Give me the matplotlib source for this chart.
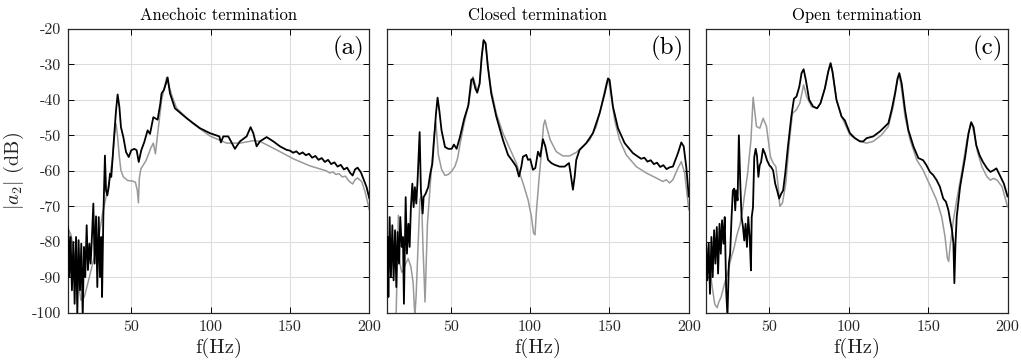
import matplotlib
matplotlib.use("Agg")
import matplotlib.pyplot as plt

plt.rcParams["font.family"] = "serif"
plt.rcParams["font.serif"] = ["cmr10", "DejaVu Serif"]
plt.rcParams["mathtext.fontset"] = "cm"
plt.rcParams["axes.unicode_minus"] = False
plt.rcParams["axes.formatter.use_mathtext"] = True

# ── DATA ──────────────────────────────────────────────────────────
titles = ["Anechoic termination", "Closed termination", "Open termination"]
panel_tags = ["(a)", "(b)", "(c)"]
x_ticks = [50, 100, 150, 200]
y_ticks = [-20, -30, -40, -50, -60, -70, -80, -90, -100]

# (a) anechoic: measured (black) and model (gray)
f_a_meas = [10, 10.5, 11, 11.8, 12.6, 13.5, 14.3, 15.2, 16, 16.8, 17.7, 18.5, 19.4,
            20.2, 21, 21.9, 22.7, 23.6, 24.4, 25.3, 26.1, 26.9, 27.8, 28.6, 29.5,
            30.3, 31.1, 31.6, 32.4, 33.4, 34.1, 34.9, 35.8, 36.6, 37.4, 38.3, 39.3,
            40.4, 41.4, 42.5, 43.5, 45, 46.7, 48.4, 50, 51.9, 53.4, 54.7, 56.3, 58.2,
            60.3, 61.8, 63.9, 66.6, 68.3, 69.1, 70.6, 71.8, 72.9, 74.4, 77.5, 84.9,
            93.3, 99.6, 105.5, 106.5, 108, 111.1, 113.2, 115.3, 118.5, 122.7, 125.2,
            126.9, 129, 131.1, 135.3, 139.5, 143.7, 147.9, 150, 152, 154, 156, 158,
            160, 162, 164, 166, 168, 170, 172, 174, 176, 178, 180, 182, 184, 186,
            188, 189.5, 191, 192.6, 194.7, 196.6, 198.3, 200]
a_meas = [-75.8, -78.6, -89.9, -78.6, -93.6, -80, -97.4, -78.6, -100.5, -79.5, -93.6,
          -80.5, -101, -81.4, -89.9, -75.3, -87.9, -80.5, -86.1, -77.7, -69.2, -86.1,
          -72.8, -92.7, -73, -89.9, -78.6, -95.5, -73, -55.7, -65.5, -66.9, -64.5,
          -60.8, -61.7, -56.1, -49.6, -43, -38.5, -42, -47.7, -50.5, -54.7, -56.1,
          -54.2, -53.8, -54.2, -57.5, -54.2, -51.9, -48.6, -49.6, -44.9, -45.6, -41.1,
          -38.2, -37.2, -35.5, -33.7, -38.2, -42.4, -45.2, -48, -49.4, -50.3, -52,
          -50.3, -50.3, -52, -53.8, -51.7, -50.3, -47.7, -49.4, -53.1, -51.7, -50.5,
          -51.7, -53.1, -54.1, -54.3, -54.9, -54.5, -55.3, -54.8, -55.6, -55.2, -56.3,
          -55.8, -56.9, -56.4, -57.5, -56.9, -58.1, -57.6, -58.8, -58.3, -59.6, -59.1,
          -60.6, -61.3, -59.6, -59.1, -60.4, -62.6, -64.6, -67.7]
f_a_model = [10, 12, 15.2, 18.3, 20.4, 23.6, 26.7, 29.9, 31.9, 34.1, 36.2, 38.3, 39.5,
             40.4, 41.2, 42.5, 43.5, 45, 47.7, 50.9, 52.6, 53.8, 54.5, 55.1, 56.1,
             59.3, 62.4, 63.9, 65.2, 66.4, 68.1, 69.1, 72.3, 75.4, 78.6, 89.1, 99.6,
             110.1, 118.5, 126.9, 131.1, 141.6, 152.1, 162.6, 173, 175, 177, 179, 181,
             183, 185, 187, 189.5, 191, 192.6, 195.2, 197.3, 200]
a_model = [-76, -78, -87, -96.4, -95.5, -89.9, -84.2, -77.7, -72, -67.4, -62.7, -56.1,
           -49.6, -46.7, -49.6, -56.1, -59.9, -61.7, -62.7, -62.9, -63.2, -65.5, -69,
           -61.9, -59.4, -57.1, -53.5, -52.2, -55.2, -50.5, -43.9, -40, -33.7, -38.6,
           -42.4, -46.8, -50.2, -52.2, -52.2, -51.5, -51.7, -54.1, -56.6, -58.6, -60,
           -60.6, -60.3, -61, -60.8, -61.7, -61.5, -62.8, -63.7, -62.5, -62, -63, -65.8,
           -70.9]

# (b) closed
f_b_meas = [10.2, 10.7, 11.5, 12.3, 13.2, 14, 14.9, 15.7, 16.5, 17.4, 18.2, 19.1, 19.9,
            20.5, 21.6, 22.4, 23.3, 24.1, 24.9, 25.8, 26.6, 27.4, 28.3, 29.1, 30.4,
            31.2, 32.3, 32.9, 34.2, 35.8, 37.1, 38.4, 39.6, 40.7, 41.7, 42.8, 44.2,
            46.4, 48.5, 50.6, 52, 53.7, 55.8, 58.5, 61.1, 62.9, 64, 65.5, 66.7, 68.2,
            69.5, 70.7, 72, 73.4, 75.5, 78.7, 82.9, 86.1, 89.2, 91.3, 93, 94.5, 95.5,
            97.6, 98.7, 100.1, 101.8, 103.3, 105, 106.4, 108.1, 109.6, 111.3, 113.4,
            115.5, 118.6, 121.8, 124.5, 125.5, 127, 128.1, 129.1, 131.2, 135.4, 139.6,
            143.8, 147, 149.1, 150.1, 152.2, 155.4, 159.6, 164.8, 168, 170, 172, 174,
            176, 178, 180, 182, 184, 186, 188, 190, 193.2, 195.3, 196.8, 198.4, 200]
b_meas = [-78.6, -95.5, -73, -89.9, -75.3, -90.8, -76.7, -92.7, -77.2, -86.1, -73,
          -81.4, -78.6, -97.4, -67.4, -83.3, -74.9, -81.4, -70.2, -63.6, -70.2, -64.6,
          -69.2, -62.7, -49.1, -65.5, -72, -67.4, -66.4, -64.6, -60.8, -58, -50.5,
          -43.9, -39.4, -43, -48.6, -53.3, -53.8, -53.8, -52.6, -53.8, -50.5, -45.3,
          -41.6, -34.4, -34, -36.8, -38, -35.4, -27.9, -23.2, -24.1, -30.7, -38.2,
          -44.7, -51.3, -55.5, -57.4, -58.8, -61.6, -58.8, -56, -55.5, -56.9, -56.7,
          -59.7, -59.2, -54.6, -56, -51.1, -53.1, -56.9, -57.8, -58.3, -58.8, -58.8,
          -57.8, -60.6, -65.3, -61.6, -56.9, -54.1, -52.2, -49.4, -43.8, -38.2, -34,
          -34.4, -41.9, -48, -52.2, -55, -56, -56.6, -56.3, -57.4, -57, -58.1, -57.7,
          -58.9, -58.4, -59.5, -59, -58.8, -55, -52, -53.1, -58.8, -67.2]
f_b_model = [10, 14.5, 15.6, 17, 18, 19.1, 20.2, 21.6, 23.2, 24.9, 26.3, 27.4, 28.2,
             29.5, 30.6, 31.6, 32.4, 33.8, 35.3, 37.4, 39.6, 40.6, 42.2, 44.3, 46.4,
             48.5, 50.6, 52.7, 54.4, 55.8, 58.5, 61.1, 64, 66.7, 68.2, 69.5, 70.7, 72,
             73.4, 75.5, 78.7, 82.9, 87.1, 91.3, 95.5, 98.7, 100.8, 102.2, 103.1, 103.9,
             105.6, 107.1, 108.5, 109.4, 110.6, 112.7, 116.5, 120.7, 124.9, 129.1,
             133.3, 137.5, 141.7, 144.9, 148, 149.3, 151.2, 153.3, 156.4, 160.6, 166.9,
             173.2, 179.5, 183.7, 185.8, 187.9, 190, 193.2, 195.3, 197.4, 200]
b_model = [-106, -103, -100, -72.5, -86.1, -88.5, -88, -86.1, -84.7, -87, -91.5, -101,
           -95, -80, -68, -67, -80, -96.9, -75, -62, -49.6, -46.3, -55.5, -59.7, -61.3,
           -61, -60.1, -58.7, -56.3, -52.6, -46.5, -41.4, -33.5, -37.5, -35.5, -28,
           -23.5, -24.5, -30.5, -37.2, -43.8, -49.4, -53.6, -57.8, -63.4, -68.1, -72.8,
           -77.5, -78, -71.9, -62.5, -55, -47.1, -45.7, -48, -51.3, -54.6, -55.8, -55.8,
           -54.8, -53.1, -51.3, -47.5, -41.9, -35.4, -34, -39.1, -45.7, -51.3, -55.5,
           -58.8, -60.6, -62, -63, -62.5, -63.4, -62.5, -59.2, -57.4, -60.6, -70.9]

# (c) open
f_c_meas = [10, 10.8, 11.7, 12.5, 13.4, 14.2, 15.1, 15.9, 16.8, 17.6, 18.5, 19.3, 20.1,
            21, 21.8, 22.7, 23.5, 24.4, 25.2, 26.1, 26.9, 27.8, 28.4, 29, 29.9, 30.7,
            31.6, 32.4, 33.3, 34.1, 34.9, 35.8, 36.6, 37.5, 38.3, 38.8, 39.6, 40.4,
            41.3, 42.1, 43, 43.8, 44.7, 45.9, 47.2, 48.5, 50, 51, 52.3, 53.6, 54.8,
            56.1, 57.4, 58.6, 59.9, 61.6, 63.7, 65.4, 67, 68.8, 70.2, 71.5, 72.9, 75,
            77.5, 80, 82.1, 84.9, 87, 88.5, 89.7, 92.2, 95.4, 97.5, 98.6, 100.7, 103.8,
            107, 109.1, 111.2, 115.4, 119.6, 122.8, 124.9, 127, 129.1, 130.7, 131.8,
            133.3, 135.4, 137.5, 140.7, 143.8, 146.8, 148.9, 151.1, 153.2, 155.3,
            157.4, 159.5, 161.2, 162.7, 164.2, 165, 165.9, 166.5, 167.2, 168, 170.1,
            173.3, 175.4, 177.1, 178.6, 180.3, 182.4, 184.5, 187.1, 189.2, 191.3, 193,
            195.1, 197.7, 200]
c_meas = [-80.5, -90.8, -80.5, -94.6, -78.6, -89.9, -76.7, -86.1, -75.8, -88.9, -74.9,
          -83.3, -73.9, -80.5, -73, -93.6, -101, -86.1, -83.3, -73, -65.5, -65, -71.1,
          -65.5, -68.3, -50, -63.6, -73, -75.8, -79.6, -74.9, -81.4, -73, -78.6, -88,
          -73, -70.2, -56.1, -53.8, -55.7, -61.7, -58.5, -57.5, -53.8, -55.2, -57.1,
          -58.5, -58.9, -59.9, -63.6, -65.5, -67.8, -66.4, -65.5, -60.8, -53.3, -44.9,
          -39.7, -39.1, -36.3, -32.5, -31.4, -34.4, -40, -41.9, -42.4, -41, -36.8, -32.1,
          -29.7, -32.1, -40, -44.7, -45.8, -47.1, -49.4, -50.8, -51.7, -51.7, -50.8,
          -50.3, -48.9, -47.5, -46.6, -42.8, -38.2, -34, -32.5, -35.4, -42.8, -48.5,
          -53.1, -56.4, -57, -58.4, -60.3, -61.2, -62.6, -64.5, -67.8, -68.7, -71,
          -74.8, -76.6, -80.4, -91.6, -80.4, -72.9, -64.5, -56.1, -49.5, -46.3, -47.7,
          -52.8, -55.6, -57.5, -59.3, -60.3, -59.8, -59.3, -61.2, -63.6, -67.2]
f_c_model = [10, 12, 14, 15.5, 17, 18, 19.5, 21.5, 23.5, 25.5, 27.5, 29.5, 31.5, 33,
             34.1, 36.2, 38.3, 39.7, 41.8, 43.9, 46, 48.1, 50.6, 52.3, 54, 55.5, 56.5,
             58.2, 60.3, 62.4, 64.5, 67, 69.1, 71.5, 73.4, 76.5, 80, 82.1, 84.9, 87,
             88.5, 89.7, 92.2, 95.4, 100.7, 107, 111.2, 115.4, 120.6, 124.9, 128,
             130.7, 131.8, 133.3, 135.4, 138.6, 142.8, 146.8, 151.1, 155.3, 158.5,
             160.6, 162.1, 162.9, 163.8, 165.9, 168, 171.2, 174.4, 176.5, 177.5, 179,
             181.1, 183.9, 187.1, 189.2, 191.3, 193.4, 196.6, 200]
c_model = [-80, -86, -93, -97.5, -98.5, -97, -95.5, -92, -89, -85, -82, -78, -75, -71,
           -67.4, -60.8, -51.4, -39.3, -47.5, -48, -45.2, -47.5, -56, -57.8, -58.8,
           -64.4, -70, -69, -63.4, -52.2, -43.8, -42.8, -41, -35.8, -39.1, -41.9, -42.4,
           -41, -36.8, -32.1, -29.7, -32.1, -40, -44.7, -49.9, -51.7, -52.2, -51.7,
           -49.9, -47.5, -41.9, -34.4, -33, -37.2, -44.7, -51.3, -56.9, -59.8, -64,
           -68.2, -72.9, -78.5, -84.6, -85.5, -81.3, -73.8, -68.2, -60.3, -51.4, -47.2,
           -46.7, -49.5, -54.7, -58.9, -61.7, -62.6, -62.1, -62.6, -64.5, -70.1]

panels = [
    (f_a_meas, a_meas, f_a_model, a_model),
    (f_b_meas, b_meas, f_b_model, b_model),
    (f_c_meas, c_meas, f_c_model, c_model),
]

# ── FIGURE ────────────────────────────────────────────────────────
fig = plt.figure(figsize=(10.21, 3.63), dpi=100)
lefts = [0.0664, 0.3793, 0.6915]
bottom, width, height = 0.1377, 0.2953, 0.7832
tick_col = "#262626"

for i, (fm, ym, fs, ys) in enumerate(panels):
    ax = fig.add_axes([lefts[i], bottom, width, height])
    ax.plot(fs, ys, color="#999999", lw=1.1, zorder=2)
    ax.plot(fm, ym, color="black", lw=1.3, zorder=3)

    ax.set_xlim(10, 200)
    ax.set_ylim(-100, -20)
    ax.set_xticks(x_ticks)
    ax.set_xticklabels([str(v) for v in x_ticks], fontsize=11.5, color=tick_col)
    ax.set_yticks(y_ticks)
    if i == 0:
        ax.set_yticklabels([str(v) for v in y_ticks], fontsize=11.5, color=tick_col)
        ax.set_ylabel(r"$|a_2|$ (dB)", fontsize=14.5, labelpad=4, color=tick_col)
    else:
        ax.set_yticklabels([])

    ax.grid(True, color="#dddddd", lw=0.8)
    ax.set_axisbelow(True)
    ax.tick_params(direction="in", length=4, width=0.7, top=True, right=True, pad=5)
    for sp in ax.spines.values():
        sp.set_linewidth(0.9)
        sp.set_color(tick_col)

    ax.set_xlabel("f(Hz)", fontsize=15, labelpad=3, color=tick_col)
    ax.set_title(titles[i], fontsize=12, pad=6)
    ax.text(0.985, 0.975, panel_tags[i], transform=ax.transAxes,
            ha="right", va="top", fontsize=18)

plt.savefig("out.png", dpi=100)
